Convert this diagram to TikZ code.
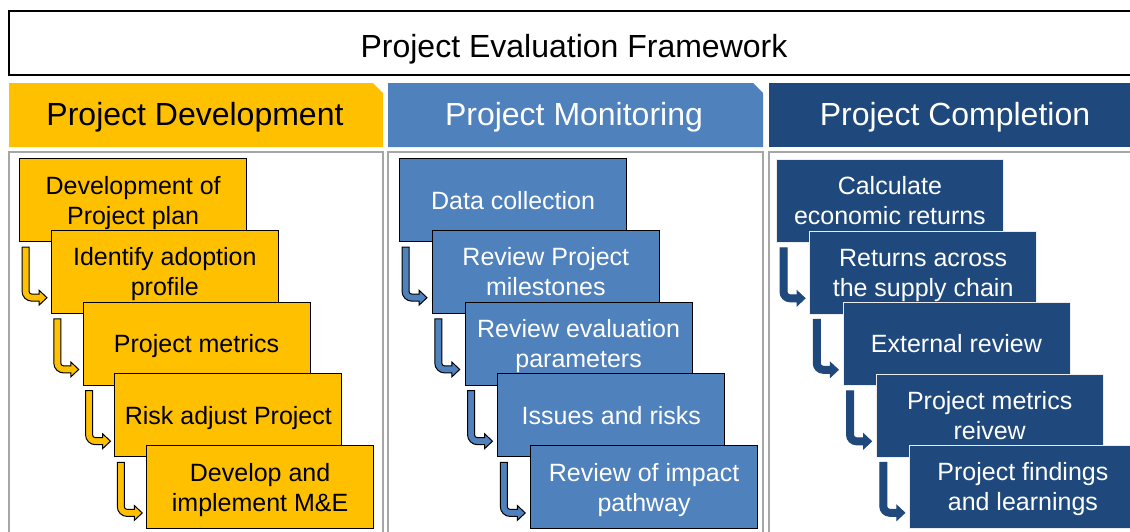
\documentclass[tikz,border=0pt]{standalone}
\usepackage{fontspec}
\setmainfont{Liberation Sans}
\usetikzlibrary{calc}
\definecolor{ygold}{HTML}{FFC000}
\definecolor{mblue}{HTML}{4F81BD}
\definecolor{dblue}{HTML}{1F497D}
\definecolor{pgray}{HTML}{A6A6A6}
\tikzset{
  stepbox/.style={anchor=north west, minimum width=227pt, minimum height=83pt,
    inner sep=0pt, align=center, text depth=0pt, font=\fontsize{25}{30}\selectfont},
  devbox/.style={stepbox, fill=ygold, draw=black, line width=1.2pt, text=black},
  monbox/.style={stepbox, fill=mblue, draw=black, line width=1.2pt, text=white},
  compbox/.style={stepbox, fill=dblue, draw=white!85!gray, line width=0.8pt, text=white},
  headtext/.style={anchor=base, inner sep=0pt, font=\fontsize{32}{38}\selectfont},
  panel/.style={draw=pgray, line width=1.6pt},
  devarrow/.style={fill=ygold, draw=black, line width=1pt},
  monarrow/.style={fill=mblue, draw=black, line width=1pt},
  comparrow/.style={fill=dblue, draw=dblue, line width=1pt},
  bentarrow/.pic={
    \path[pic actions] (0,0) -- (7,0) -- (7,-44)
      arc[start angle=180, end angle=270, radius=3] -- (17,-47) -- (17,-43)
      -- (25,-50.5) -- (17,-58) -- (17,-54) -- (10,-54)
      arc[start angle=270, end angle=180, radius=10] -- cycle;
  }
}
\begin{document}
\begin{tikzpicture}[x=1pt, y=1pt]
\useasboundingbox (0,0) rectangle (1130,-531);
\clip (0,0) rectangle (1130,-531);
\fill[white] (0,0) rectangle (1130,-531);

% title
\draw[line width=2pt] (9,-11) rectangle (1145,-75);
\node[headtext] (title) at (574,-57.5) {Project Evaluation Framework};

% headers
\fill[ygold] (9,-83) -- (373,-83) -- (383,-93) -- (383,-147) -- (9,-147) -- cycle;
\node[headtext, text=black] (hdev) at (195,-125.5) {Project Development};
\fill[mblue] (388,-83) -- (753,-83) -- (763,-93) -- (763,-147) -- (388,-147) -- cycle;
\node[headtext, text=white] (hmon) at (574,-125.5) {Project Monitoring};
\fill[dblue] (769,-83) rectangle (1145,-147);
\node[headtext, text=white] (hcomp) at (955,-125.5) {Project Completion};

% panels
\draw[panel] (9,-152) rectangle (383,-545);
\draw[panel] (388,-152) rectangle (763,-545);
\draw[panel] (769,-152) rectangle (1145,-545);

% Development column
\node[devbox] (d1) at (19,-158) {Development of\\Project plan};
\pic[devarrow] at ($(d1.south west)+(3,-5)$) {bentarrow};
\node[devbox] (d2) at (50.75,-229.75) {Identify adoption\\profile};
\pic[devarrow] at ($(d2.south west)+(3,-5)$) {bentarrow};
\node[devbox] (d3) at (82.5,-301.5) {Project metrics};
\pic[devarrow] at ($(d3.south west)+(3,-5)$) {bentarrow};
\node[devbox] (d4) at (114.25,-373.25) {Risk adjust Project};
\pic[devarrow] at ($(d4.south west)+(3,-5)$) {bentarrow};
\node[devbox] (d5) at (146,-445) {Develop and\\implement M\&E};

% Monitoring column
\node[monbox] (m1) at (399,-158) {Data collection};
\pic[monarrow] at ($(m1.south west)+(3,-5)$) {bentarrow};
\node[monbox] (m2) at (431.75,-229.75) {Review Project\\milestones};
\pic[monarrow] at ($(m2.south west)+(3,-5)$) {bentarrow};
\node[monbox] (m3) at (464.5,-301.5) {Review evaluation\\parameters};
\pic[monarrow] at ($(m3.south west)+(3,-5)$) {bentarrow};
\node[monbox] (m4) at (497.25,-373.25) {Issues and risks};
\pic[monarrow] at ($(m4.south west)+(3,-5)$) {bentarrow};
\node[monbox] (m5) at (530,-445) {Review of impact\\pathway};

% Completion column
\node[compbox] (c1) at (776,-159) {Calculate\\economic returns};
\pic[comparrow] at ($(c1.south west)+(4,-5)$) {bentarrow};
\node[compbox] (c2) at (809.25,-230.5) {Returns across\\the supply chain};
\pic[comparrow] at ($(c2.south west)+(4,-5)$) {bentarrow};
\node[compbox] (c3) at (842.5,-302) {External review};
\pic[comparrow] at ($(c3.south west)+(4,-5)$) {bentarrow};
\node[compbox] (c4) at (875.75,-373.5) {Project metrics\\reivew};
\pic[comparrow] at ($(c4.south west)+(4,-5)$) {bentarrow};
\node[compbox] (c5) at (909,-445) {Project findings\\and learnings};
\end{tikzpicture}
\end{document}
